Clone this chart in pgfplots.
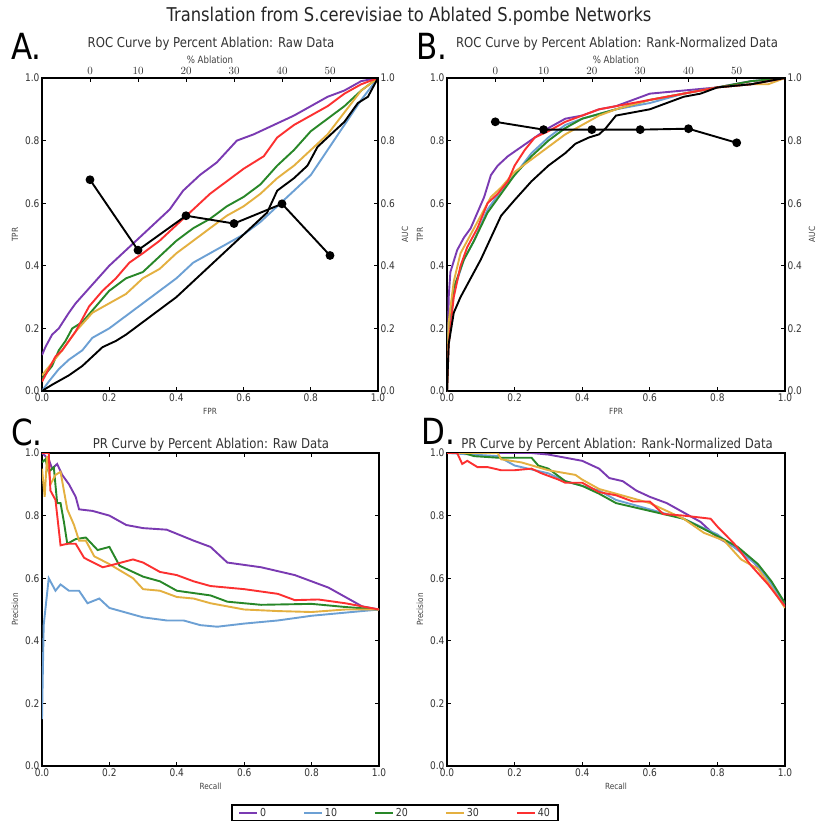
\documentclass[border=0pt]{standalone}
\usepackage{pgfplots}
\pgfplotsset{compat=1.18}
\usepackage{fontspec}
\setmainfont{DejaVu Sans}[FakeStretch=0.86]
\definecolor{cP}{RGB}{122,58,178}
\definecolor{cB}{RGB}{108,160,212}
\definecolor{cG}{RGB}{40,135,40}
\definecolor{cO}{RGB}{228,176,64}
\definecolor{cR}{RGB}{252,48,48}
\pgfplotsset{
  panel/.style={
    scale only axis, height=313pt,
    xmin=0,xmax=1,ymin=0,ymax=1,
    xtick={0,0.2,0.4,0.6,0.8,1.0}, ytick={0,0.2,0.4,0.6,0.8,1.0},
    xticklabels={0.0,0.2,0.4,0.6,0.8,1.0}, yticklabels={0.0,0.2,0.4,0.6,0.8,1.0},
    tick align=inside, major tick length=4pt,
    axis line style={line width=1.6pt},
    every tick/.style={black, line width=0.7pt},
    tick label style={font=\fontsize{10.5}{12}\selectfont, text=black!80},
    xticklabel style={yshift=1pt},
    yticklabel style={xshift=1pt},
    label style={font=\fontsize{8.5}{10}\selectfont, text=black!75},
    every axis plot/.append style={line width=1.9pt, no marks},
    legend image code/.code={\draw[#1] (0pt,0pt) -- (18pt,0pt);},
  },
  twin/.style={
    scale only axis, height=313pt,
    xmin=-10,xmax=60,ymin=0,ymax=1,
    axis x line*=top, axis y line*=right,
    xtick={0,10,20,30,40,50}, ytick={0,0.2,0.4,0.6,0.8,1.0},
    yticklabels={0.0,0.2,0.4,0.6,0.8,1.0},
    tick align=inside, major tick length=4pt,
    axis line style={line width=1.6pt, -},
    every tick/.style={black, line width=0.7pt},
    tick label style={font=\fontsize{10.5}{12}\selectfont, text=black!80},
    yticklabel style={xshift=-1pt},
    label style={font=\fontsize{8.5}{10}\selectfont, text=black!75},
    xlabel style={font=\fontsize{10}{12}\selectfont, yshift=-3pt},
    ylabel style={font=\fontsize{8.5}{10}\selectfont},
  }
}
\begin{document}
\begin{tikzpicture}
\useasboundingbox (0pt,0pt) rectangle (818pt,-824pt);
\fill[white] (0pt,0pt) rectangle (818pt,-824pt);
% ---------------- A ----------------
\begin{axis}[panel, width=336pt, at={(42pt,-391pt)}, anchor=south west,
  xtick pos=left, ytick pos=left, xlabel={FPR}, ylabel={TPR}]
\addplot[cP] coordinates {(0,0.115)(0.01,0.14)(0.03,0.18)(0.05,0.20)(0.08,0.25)(0.1,0.28)(0.15,0.34)(0.2,0.40)(0.25,0.45)(0.3,0.50)(0.35,0.55)(0.38,0.58)(0.42,0.64)(0.47,0.69)(0.52,0.73)(0.58,0.80)(0.63,0.82)(0.67,0.84)(0.75,0.88)(0.8,0.91)(0.85,0.94)(0.9,0.96)(0.95,0.99)(1,1)};
\addplot[cB] coordinates {(0,0.0)(0.02,0.03)(0.05,0.07)(0.08,0.10)(0.12,0.13)(0.15,0.17)(0.2,0.20)(0.25,0.24)(0.3,0.28)(0.35,0.32)(0.4,0.36)(0.45,0.41)(0.5,0.44)(0.55,0.47)(0.6,0.50)(0.65,0.54)(0.7,0.59)(0.75,0.64)(0.8,0.69)(0.85,0.77)(0.9,0.85)(0.95,0.93)(1,1)};
\addplot[cG] coordinates {(0,0.04)(0.03,0.08)(0.05,0.13)(0.07,0.16)(0.09,0.20)(0.12,0.22)(0.16,0.27)(0.2,0.32)(0.25,0.36)(0.3,0.38)(0.35,0.43)(0.4,0.48)(0.45,0.52)(0.5,0.55)(0.55,0.59)(0.6,0.62)(0.65,0.66)(0.7,0.72)(0.75,0.77)(0.8,0.83)(0.85,0.87)(0.9,0.91)(0.95,0.96)(1,1)};
\addplot[cO] coordinates {(0,0.05)(0.03,0.09)(0.06,0.13)(0.1,0.19)(0.15,0.25)(0.2,0.28)(0.25,0.31)(0.3,0.36)(0.35,0.39)(0.4,0.44)(0.45,0.48)(0.5,0.52)(0.55,0.56)(0.6,0.59)(0.65,0.63)(0.7,0.68)(0.75,0.72)(0.8,0.77)(0.85,0.82)(0.9,0.89)(0.95,0.96)(1,1)};
\addplot[cR] coordinates {(0,0.03)(0.02,0.07)(0.04,0.11)(0.06,0.13)(0.1,0.19)(0.14,0.27)(0.18,0.32)(0.22,0.36)(0.26,0.41)(0.3,0.44)(0.35,0.48)(0.4,0.53)(0.45,0.58)(0.5,0.63)(0.55,0.67)(0.6,0.71)(0.66,0.75)(0.7,0.81)(0.75,0.85)(0.8,0.88)(0.85,0.91)(0.9,0.95)(0.95,0.98)(1,1)};
\addplot[black] coordinates {(0,0)(0.03,0.02)(0.08,0.05)(0.12,0.08)(0.15,0.11)(0.18,0.14)(0.22,0.16)(0.25,0.18)(0.3,0.22)(0.35,0.26)(0.4,0.30)(0.45,0.35)(0.5,0.40)(0.57,0.47)(0.62,0.52)(0.67,0.57)(0.7,0.64)(0.75,0.68)(0.79,0.72)(0.82,0.78)(0.86,0.82)(0.9,0.86)(0.94,0.92)(0.97,0.94)(1,1)};
\end{axis}
\begin{axis}[twin, width=336pt, at={(42pt,-391pt)}, anchor=south west,
  xlabel={\% Ablation}, ylabel={AUC}]
\addplot[black, line width=1.9pt, mark=*, mark size=3.4pt, mark options={fill=black}] coordinates {(0,0.675)(10,0.45)(20,0.56)(30,0.535)(40,0.598)(50,0.433)};
\end{axis}
% ---------------- B ----------------
\begin{axis}[panel, width=338pt, at={(447pt,-391pt)}, anchor=south west,
  xtick pos=left, ytick pos=left, xlabel={FPR}, ylabel={TPR}]
\addplot[cP] coordinates {(0,0)(0.005,0.3)(0.01,0.38)(0.03,0.45)(0.05,0.49)(0.07,0.52)(0.09,0.57)(0.11,0.62)(0.13,0.69)(0.15,0.72)(0.18,0.75)(0.22,0.78)(0.26,0.81)(0.3,0.84)(0.35,0.87)(0.4,0.88)(0.45,0.90)(0.5,0.91)(0.55,0.93)(0.6,0.95)(0.7,0.96)(0.8,0.97)(0.9,0.99)(1,1)};
\addplot[cB] coordinates {(0,0)(0.005,0.2)(0.02,0.32)(0.05,0.42)(0.08,0.48)(0.12,0.58)(0.16,0.64)(0.2,0.69)(0.25,0.76)(0.3,0.81)(0.35,0.85)(0.4,0.87)(0.5,0.90)(0.6,0.92)(0.7,0.95)(0.8,0.97)(0.9,0.98)(1,1)};
\addplot[cG] coordinates {(0,0)(0.005,0.22)(0.02,0.33)(0.05,0.42)(0.08,0.48)(0.12,0.57)(0.16,0.63)(0.2,0.69)(0.25,0.75)(0.3,0.80)(0.35,0.84)(0.4,0.87)(0.5,0.90)(0.6,0.93)(0.7,0.95)(0.8,0.97)(0.9,0.99)(1,1)};
\addplot[cO] coordinates {(0,0)(0.005,0.22)(0.02,0.35)(0.04,0.44)(0.07,0.50)(0.1,0.56)(0.13,0.62)(0.16,0.65)(0.2,0.70)(0.25,0.74)(0.3,0.78)(0.35,0.82)(0.4,0.85)(0.45,0.88)(0.5,0.90)(0.6,0.93)(0.7,0.95)(0.8,0.97)(0.9,0.98)(0.95,0.98)(1,1)};
\addplot[cR] coordinates {(0,0)(0.005,0.15)(0.02,0.30)(0.04,0.40)(0.06,0.46)(0.09,0.52)(0.12,0.60)(0.15,0.63)(0.18,0.67)(0.2,0.72)(0.23,0.77)(0.26,0.81)(0.3,0.83)(0.35,0.86)(0.4,0.88)(0.45,0.90)(0.5,0.91)(0.6,0.93)(0.7,0.95)(0.8,0.97)(0.9,0.98)(1,1)};
\addplot[black] coordinates {(0,0)(0.005,0.15)(0.02,0.25)(0.04,0.30)(0.07,0.36)(0.1,0.42)(0.13,0.49)(0.16,0.56)(0.2,0.61)(0.25,0.67)(0.3,0.72)(0.35,0.76)(0.38,0.79)(0.42,0.81)(0.45,0.82)(0.47,0.84)(0.5,0.88)(0.55,0.89)(0.6,0.90)(0.65,0.92)(0.7,0.94)(0.75,0.95)(0.8,0.97)(0.9,0.98)(1,1)};
\end{axis}
\begin{axis}[twin, width=338pt, at={(447pt,-391pt)}, anchor=south west,
  xlabel={\% Ablation}, ylabel={AUC}]
\addplot[black, line width=1.9pt, mark=*, mark size=3.4pt, mark options={fill=black}] coordinates {(0,0.86)(10,0.835)(20,0.835)(30,0.835)(40,0.838)(50,0.793)};
\end{axis}
% ---------------- C ----------------
\begin{axis}[panel, width=337pt, at={(42pt,-766pt)}, anchor=south west,
  xlabel={Recall}, ylabel={Precision},
  legend columns=5,
  legend style={at={(1.0475,-0.150)}, anchor=center, draw=black, line width=1.4pt,
    font=\fontsize{11}{12}\selectfont, text=black!80, inner xsep=6pt, inner ysep=1pt,
    /tikz/every even column/.append style={column sep=35pt}},
  legend cell align=left]
\addplot[cP] coordinates {(0,1.0)(0.02,0.98)(0.03,0.95)(0.045,0.965)(0.06,0.93)(0.08,0.90)(0.1,0.86)(0.11,0.82)(0.15,0.815)(0.2,0.80)(0.25,0.77)(0.3,0.76)(0.37,0.755)(0.45,0.72)(0.5,0.70)(0.55,0.65)(0.65,0.635)(0.75,0.61)(0.85,0.57)(0.9,0.54)(0.95,0.51)(1,0.50)};
\addplot[cB] coordinates {(0,0.15)(0.005,0.45)(0.02,0.60)(0.04,0.56)(0.055,0.58)(0.08,0.56)(0.11,0.56)(0.135,0.52)(0.17,0.535)(0.2,0.505)(0.3,0.475)(0.37,0.465)(0.42,0.465)(0.47,0.45)(0.52,0.445)(0.6,0.455)(0.7,0.465)(0.8,0.48)(0.9,0.49)(1,0.50)};
\addplot[cG] coordinates {(0,0.97)(0.01,0.98)(0.02,0.94)(0.035,0.955)(0.045,0.84)(0.055,0.84)(0.065,0.78)(0.075,0.71)(0.1,0.725)(0.13,0.73)(0.165,0.69)(0.2,0.70)(0.23,0.64)(0.3,0.605)(0.35,0.59)(0.4,0.56)(0.5,0.545)(0.55,0.525)(0.65,0.515)(0.8,0.518)(0.9,0.508)(1,0.50)};
\addplot[cO] coordinates {(0,0.95)(0.008,0.86)(0.015,0.99)(0.025,0.90)(0.04,0.93)(0.055,0.94)(0.065,0.88)(0.075,0.82)(0.095,0.77)(0.11,0.72)(0.13,0.72)(0.155,0.67)(0.2,0.645)(0.27,0.60)(0.3,0.565)(0.35,0.56)(0.4,0.54)(0.45,0.535)(0.5,0.52)(0.6,0.50)(0.7,0.495)(0.8,0.492)(0.9,0.50)(1,0.50)};
\addplot[cR] coordinates {(0,1.0)(0.02,1.0)(0.025,0.88)(0.04,0.85)(0.055,0.705)(0.075,0.71)(0.1,0.71)(0.125,0.665)(0.18,0.635)(0.2,0.64)(0.27,0.66)(0.3,0.65)(0.35,0.62)(0.4,0.61)(0.45,0.59)(0.5,0.575)(0.6,0.565)(0.7,0.55)(0.75,0.53)(0.82,0.532)(0.9,0.52)(1,0.50)};
\legend{0,10,20,30,40}
\end{axis}
% ---------------- D ----------------
\begin{axis}[panel, width=338pt, at={(447pt,-766pt)}, anchor=south west,
  xlabel={Recall}, ylabel={Precision}]
\addplot[cP] coordinates {(0,1)(0.15,1)(0.25,1.0)(0.3,0.995)(0.35,0.985)(0.4,0.975)(0.45,0.95)(0.48,0.92)(0.52,0.91)(0.56,0.88)(0.6,0.86)(0.65,0.84)(0.7,0.81)(0.75,0.78)(0.8,0.73)(0.85,0.70)(0.9,0.66)(0.95,0.60)(1,0.52)};
\addplot[cB] coordinates {(0,1)(0.15,0.99)(0.2,0.96)(0.3,0.935)(0.35,0.91)(0.45,0.88)(0.5,0.85)(0.6,0.82)(0.7,0.79)(0.8,0.74)(0.86,0.69)(0.92,0.64)(0.96,0.58)(1,0.51)};
\addplot[cG] coordinates {(0,1)(0.05,1)(0.08,0.99)(0.15,0.985)(0.25,0.985)(0.27,0.96)(0.3,0.95)(0.35,0.91)(0.4,0.895)(0.45,0.87)(0.5,0.84)(0.6,0.815)(0.7,0.79)(0.8,0.735)(0.86,0.70)(0.92,0.645)(0.96,0.59)(1,0.52)};
\addplot[cO] coordinates {(0,1)(0.15,1)(0.16,0.98)(0.22,0.97)(0.3,0.945)(0.38,0.93)(0.4,0.915)(0.45,0.885)(0.5,0.87)(0.6,0.84)(0.62,0.83)(0.7,0.79)(0.76,0.745)(0.82,0.72)(0.87,0.66)(0.92,0.63)(0.96,0.57)(1,0.505)};
\addplot[cR] coordinates {(0,1)(0.03,1)(0.045,0.965)(0.06,0.975)(0.09,0.955)(0.12,0.955)(0.16,0.945)(0.2,0.945)(0.25,0.95)(0.28,0.935)(0.33,0.915)(0.35,0.905)(0.4,0.905)(0.45,0.875)(0.5,0.865)(0.55,0.845)(0.6,0.845)(0.64,0.805)(0.7,0.80)(0.78,0.79)(0.8,0.765)(0.85,0.71)(0.9,0.64)(0.95,0.58)(1,0.51)};
\end{axis}
% ---------------- texts ----------------
\node[font=\fontsize{19}{22}\selectfont, text=black!85] at (409pt,-16pt) {Translation from S.cerevisiae to Ablated S.pombe Networks};
\node[font=\fontsize{13.6}{15}\selectfont, text=black!80] at (211pt,-44pt) {ROC Curve by Percent Ablation: Raw Data};
\node[font=\fontsize{13.6}{15}\selectfont, text=black!80] at (617pt,-44pt) {ROC Curve by Percent Ablation: Rank-Normalized Data};
\node[font=\fontsize{13.6}{15}\selectfont, text=black!80] at (211pt,-445pt) {PR Curve by Percent Ablation: Raw Data};
\node[font=\fontsize{13.6}{15}\selectfont, text=black!80] at (617pt,-445pt) {PR Curve by Percent Ablation: Rank-Normalized Data};
\node[font=\fontsize{36}{40}\selectfont, anchor=base west, inner sep=0pt] at (11pt,-60pt) {A.};
\node[font=\fontsize{36}{40}\selectfont, anchor=base west, inner sep=0pt] at (416pt,-60pt) {B.};
\node[font=\fontsize{36}{40}\selectfont, anchor=base west, inner sep=0pt] at (11pt,-445pt) {C.};
\node[font=\fontsize{36}{40}\selectfont, anchor=base west, inner sep=0pt] at (421pt,-444pt) {D.};
\end{tikzpicture}
\end{document}
